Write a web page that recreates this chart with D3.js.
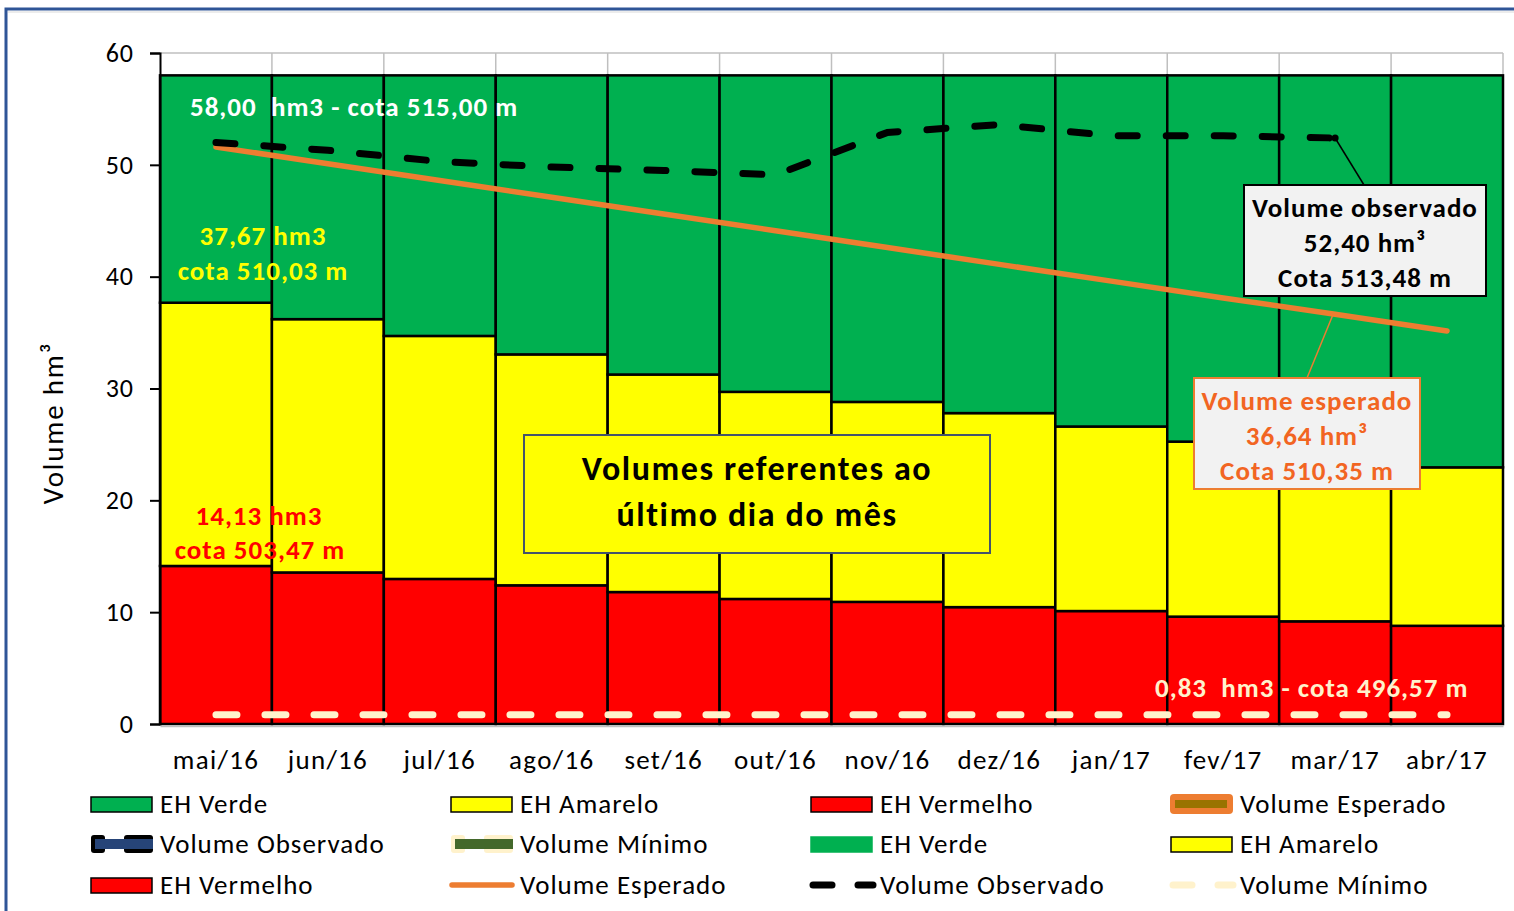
<!DOCTYPE html>
<html>
<head>
<meta charset="utf-8">
<script src="https://cdn.jsdelivr.net/npm/d3@7"></script>
<style>
  body { margin: 0; background: #fff; }
  svg { display: block; }
  text { font-family: Carlito, Calibri, Lato, sans-serif; white-space: pre; }
</style>
</head>
<body>
<svg id="vis"></svg>
<script>
const GREEN = '#00B050';
const YELLOW = '#FFFF00';
const RED = '#FF0000';
const ORANGE = '#ED7D31';
const CREAM = '#FFF2CC';
const FRAME_BLUE = '#2F5597';

var months = ['mai/16', 'jun/16', 'jul/16', 'ago/16', 'set/16', 'out/16',
              'nov/16', 'dez/16', 'jan/17', 'fev/17', 'mar/17', 'abr/17'];
// upper limit of each zone, hm3
var ehVermelho = [14.13, 13.55, 12.97, 12.4, 11.8, 11.18, 10.92, 10.45, 10.1, 9.6, 9.18, 8.78];
var ehAmarelo = [37.67, 36.2, 34.7, 33.05, 31.25, 29.7, 28.8, 27.8, 26.6, 25.25, 24.1, 22.95];
var ehVerde = [58, 58, 58, 58, 58, 58, 58, 58, 58, 58, 58, 58];
var volumeObservado = [52.0, 51.3, 50.3, 49.8, 49.5, 49.1, 52.9, 53.6, 52.6, 52.6, 52.4, null];
var volumeEsperado = [51.6, 50.1, 48.6, 47.1, 45.6, 44.1, 42.6, 41.1, 39.6, 38.1, 36.64, 35.15];
var volumeMinimo = [0.83, 0.83, 0.83, 0.83, 0.83, 0.83, 0.83, 0.83, 0.83, 0.83, 0.83, 0.83];
var yTicks = [0, 10, 20, 30, 40, 50, 60];

var width = 1514, height = 911;
var svg = d3.select('#vis').attr('width', width).attr('height', height);

var x = d3.scaleBand().domain(months).range([160, 1503]).padding(0);
var y = d3.scaleLinear().domain([0, 60]).range([724, 53]);
var cx = function(i) { return x(months[i]) + x.bandwidth() / 2; };

// frame of the chart object (its title is cut off above)
svg.append('path')
    .attr('d', 'M6,' + (height + 5) + ' L6,9 L' + (width + 5) + ',9')
    .attr('fill', 'none').attr('stroke', FRAME_BLUE).attr('stroke-width', 3);
svg.append('line').attr('x1', 8).attr('x2', width).attr('y1', 12).attr('y2', 12)
    .attr('stroke', '#d9d9d9').attr('stroke-width', 1);

// gridlines
var grid = svg.append('g');
grid.append('line').attr('x1', 160).attr('x2', 1503).attr('y1', y(60)).attr('y2', y(60))
    .attr('stroke', '#bfbfbf').attr('stroke-width', 1.5);
months.forEach(function(m, i) {
    var gx = x(m) + x.bandwidth();
    grid.append('line').attr('x1', gx).attr('x2', gx).attr('y1', y(60)).attr('y2', y(0))
        .attr('stroke', '#bfbfbf').attr('stroke-width', 1.5);
});

// zone bars
var zones = [
    {values: ehVermelho, below: null, colour: RED},
    {values: ehAmarelo, below: ehVermelho, colour: YELLOW},
    {values: ehVerde, below: ehAmarelo, colour: GREEN}
];
var bars = svg.append('g');
zones.forEach(function(z) {
    bars.selectAll(null).data(z.values).enter().append('rect')
        .attr('x', function(d, i) { return x(months[i]); })
        .attr('width', x.bandwidth())
        .attr('y', function(d) { return y(d); })
        .attr('height', function(d, i) { return y(z.below ? z.below[i] : 0) - y(d); })
        .attr('fill', z.colour)
        .attr('stroke', '#000').attr('stroke-width', 2.5);
});

// axes
var yAxis = svg.append('g').attr('transform', 'translate(160,0)')
    .call(d3.axisLeft(y).tickValues(yTicks).tickSize(10).tickPadding(16));
yAxis.select('.domain').attr('stroke', '#000').attr('stroke-width', 2);
yAxis.selectAll('.tick line').attr('stroke', '#000').attr('stroke-width', 2);
yAxis.selectAll('text').attr('font-size', 26).attr('letter-spacing', 1).attr('fill', '#000');

var xAxis = svg.append('g').attr('transform', 'translate(0,' + (y(0) + 2) + ')')
    .call(d3.axisBottom(x).tickSize(0).tickPadding(24));
xAxis.select('.domain').attr('stroke', '#bfbfbf').attr('stroke-width', 1.5);
xAxis.selectAll('text').attr('font-size', 27).attr('letter-spacing', 1.3).attr('fill', '#000');

svg.append('text')
    .attr('transform', 'translate(63,423) rotate(-90)')
    .attr('text-anchor', 'middle').attr('font-size', 29).attr('letter-spacing', 1.8)
    .attr('fill', '#000')
    .text('Volume hm³');

// lines
var line = d3.line()
    .defined(function(d) { return d != null; })
    .x(function(d, i) { return cx(i); })
    .y(function(d) { return y(d); });

svg.append('path').datum(volumeMinimo).attr('d', line)
    .attr('fill', 'none').attr('stroke', CREAM).attr('stroke-width', 7)
    .attr('stroke-linecap', 'round').attr('stroke-dasharray', '21,28');

svg.append('path').datum(volumeEsperado).attr('d', line)
    .attr('fill', 'none').attr('stroke', ORANGE).attr('stroke-width', 5.5)
    .attr('stroke-linecap', 'round');

svg.append('path').datum(volumeObservado).attr('d', line)
    .attr('fill', 'none').attr('stroke', '#000').attr('stroke-width', 7)
    .attr('stroke-linecap', 'round').attr('stroke-dasharray', '19,29');
svg.append('circle').attr('cx', cx(10)).attr('cy', y(volumeObservado[10])).attr('r', 3.5).attr('fill', '#000');

// value labels inside the bars
function label(txt, tx, ty, colour, anchor) {
    svg.append('text').attr('x', tx).attr('y', ty)
        .attr('text-anchor', anchor || 'start')
        .attr('font-size', 27).attr('letter-spacing', 1)
        .attr('font-weight', 'bold').attr('fill', colour)
        .text(txt);
}
label('58,00  hm3 - cota 515,00 m', 190, 116, '#fff');
label('37,67 hm3', 263, 245, YELLOW, 'middle');
label('cota 510,03 m', 263, 280, YELLOW, 'middle');
label('14,13 hm3', 259, 525, RED, 'middle');
label('cota 503,47 m', 260, 559, RED, 'middle');
label('0,83  hm3 - cota 496,57 m', 1155, 697, CREAM);

// callout boxes
function callout(lines, bx, by, bw, bh, fill, border, colour, size, spacing, first, lineGap) {
    var g = svg.append('g');
    g.append('rect').attr('x', bx).attr('y', by).attr('width', bw).attr('height', bh)
        .attr('fill', fill).attr('stroke', border).attr('stroke-width', 2);
    lines.forEach(function(t, i) {
        g.append('text').attr('x', bx + bw / 2).attr('y', by + first + i * lineGap)
            .attr('text-anchor', 'middle').attr('font-size', size).attr('letter-spacing', spacing)
            .attr('font-weight', 'bold').attr('fill', colour).text(t);
    });
    return g;
}

svg.append('line').attr('x1', cx(10)).attr('y1', y(volumeObservado[10]))
    .attr('x2', 1364).attr('y2', 185).attr('stroke', '#000').attr('stroke-width', 1.5);
callout(['Volume observado', '52,40 hm³', 'Cota 513,48 m'], 1244, 185, 242, 111,
    '#F2F2F2', '#000', '#000', 27, 1, 32, 35);

svg.append('line').attr('x1', cx(10) - 2).attr('y1', y(volumeEsperado[10]))
    .attr('x2', 1307).attr('y2', 378).attr('stroke', ORANGE).attr('stroke-width', 1.5);
callout(['Volume esperado', '36,64 hm³', 'Cota 510,35 m'], 1194, 378, 226, 111,
    '#F2F2F2', ORANGE, '#F26522', 27, 1, 32, 35);

callout(['Volumes referentes ao', 'último dia do mês'], 524, 435, 466, 118,
    YELLOW, '#44546A', '#000', 34, 1.6, 45, 46);

// legend
var legendItems = [
    {name: 'EH Verde', type: 'rect', fill: GREEN, stroke: '#000'},
    {name: 'EH Amarelo', type: 'rect', fill: YELLOW, stroke: '#000'},
    {name: 'EH Vermelho', type: 'rect', fill: RED, stroke: '#000'},
    {name: 'Volume Esperado', type: 'band', fill: ORANGE, inner: '#997300'},
    {name: 'Volume Observado', type: 'band2', fill: '#000', inner: '#264478'},
    {name: 'Volume Mínimo', type: 'band2', fill: CREAM, inner: '#43682B'},
    {name: 'EH Verde', type: 'rect', fill: GREEN, stroke: GREEN},
    {name: 'EH Amarelo', type: 'rect', fill: YELLOW, stroke: '#000'},
    {name: 'EH Vermelho', type: 'rect', fill: RED, stroke: '#000'},
    {name: 'Volume Esperado', type: 'line', stroke: ORANGE},
    {name: 'Volume Observado', type: 'dash', stroke: '#000'},
    {name: 'Volume Mínimo', type: 'dash', stroke: CREAM}
];
var legendX = [90, 450, 810, 1170];
var legendY = [804, 844, 885];
var lg = svg.append('g');
legendItems.forEach(function(item, i) {
    var lx = legendX[i % 4], ly = legendY[Math.floor(i / 4)];
    if (item.type == 'rect') {
        lg.append('rect').attr('x', lx + 1).attr('y', ly - 7).attr('width', 61).attr('height', 15)
            .attr('fill', item.fill).attr('stroke', item.stroke).attr('stroke-width', 1.5);
    } else if (item.type == 'band') {
        lg.append('rect').attr('x', lx).attr('y', ly - 10).attr('width', 63).attr('height', 20)
            .attr('rx', 4).attr('fill', item.fill);
        lg.append('rect').attr('x', lx + 5).attr('y', ly - 4).attr('width', 52).attr('height', 8)
            .attr('fill', item.inner);
    } else if (item.type == 'band2') {
        lg.append('rect').attr('x', lx + 1).attr('y', ly - 9).attr('width', 14).attr('height', 18)
            .attr('rx', 3).attr('fill', item.fill);
        lg.append('rect').attr('x', lx + 34).attr('y', ly - 9).attr('width', 29).attr('height', 18)
            .attr('rx', 3).attr('fill', item.fill);
        lg.append('rect').attr('x', lx + 5).attr('y', ly - 5).attr('width', 58).attr('height', 10)
            .attr('fill', item.inner);
    } else if (item.type == 'line') {
        lg.append('line').attr('x1', lx + 2).attr('x2', lx + 62).attr('y1', ly).attr('y2', ly)
            .attr('stroke', item.stroke).attr('stroke-width', 5.5).attr('stroke-linecap', 'round');
    } else {
        lg.append('line').attr('x1', lx + 3).attr('x2', lx + 22).attr('y1', ly).attr('y2', ly)
            .attr('stroke', item.stroke).attr('stroke-width', 7).attr('stroke-linecap', 'round');
        lg.append('line').attr('x1', lx + 48).attr('x2', lx + 63).attr('y1', ly).attr('y2', ly)
            .attr('stroke', item.stroke).attr('stroke-width', 7).attr('stroke-linecap', 'round');
    }
    lg.append('text').attr('x', lx + 70).attr('y', ly).attr('dy', '0.35em')
        .attr('font-size', 27).attr('letter-spacing', 1).attr('fill', '#000').text(item.name);
});
</script>
</body>
</html>
